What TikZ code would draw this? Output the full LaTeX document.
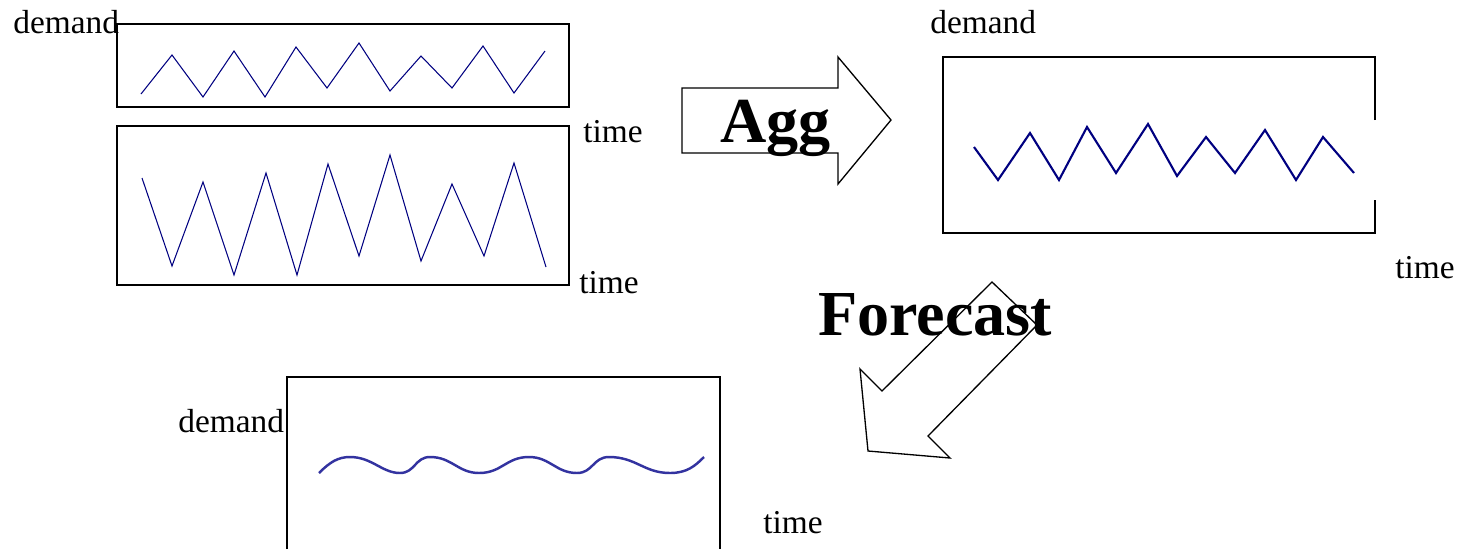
\documentclass[tikz,border=0pt]{standalone}
\usepackage{fontspec}
\setmainfont{Liberation Serif}
\definecolor{plotnavy}{RGB}{0,0,128}
\definecolor{wavyblue}{RGB}{51,51,160}
\usetikzlibrary{positioning}

\begin{document}
\begin{tikzpicture}[x=0.02cm, y=-0.02cm,
    frame/.style={draw=black, line width=0.85pt},
    zig/.style={plotnavy, line width=0.6pt},
    bigzig/.style={plotnavy, line width=1.2pt},
    wave/.style={wavyblue, line width=1.4pt},
    lbl/.style={inner sep=0pt, anchor=base west, font=\fontsize{19}{21}\selectfont},
    bigword/.style={inner sep=0pt, anchor=base west, font=\fontsize{36.5}{39}\selectfont\bfseries},
    blockarr/.style={draw=black, line width=0.75pt, line join=miter}
  ]
  \useasboundingbox (0,0) rectangle (1467,549);

  \draw[frame] (117,24) rectangle (569,107);
  \draw[zig] (141,94) -- (172,55) -- (203,97) -- (234,51) -- (265,97) -- (296,47)
    -- (327,88) -- (359,43) -- (390,91) -- (421,56) -- (452,88) -- (483,46)
    -- (514,93) -- (545,51);
  \draw[frame] (117,126) rectangle (569,285);
  \draw[zig] (142,178) -- (172,266) -- (203,182) -- (234,275) -- (266,173) -- (297,275)
    -- (328,164) -- (359,256) -- (390,155) -- (421,261) -- (452,184) -- (484,256)
    -- (514,163) -- (546,267);
  \node[lbl] (dmdA) at (13,33) {demand};
  \node[lbl] (timeA) at (583,142) {time};
  \node[lbl] (timeB) at (579,293) {time};

  \draw[blockarr] (682,88) -- (838,88) -- (838,57) -- (891,120) -- (838,184)
    -- (838,153) -- (682,153) -- cycle;
  \node[bigword] (agg) at (720,142) {Agg};

  \draw[frame] (1375,120) -- (1375,57) -- (943,57) -- (943,233) -- (1375,233) -- (1375,200);
  \draw[bigzig] (974,147) -- (998,180) -- (1030,133) -- (1059,180) -- (1087,127)
    -- (1116,173) -- (1148,124) -- (1177,176) -- (1206,137) -- (1235,173)
    -- (1265,130) -- (1296,180) -- (1323,137) -- (1354,173);
  \node[lbl] (dmdC) at (930,33) {demand};
  \node[lbl] (timeC) at (1395,278) {time};

  \draw[blockarr] (992,282) -- (1037,325) -- (928,436) -- (950,458) -- (868,451)
    -- (860,369) -- (882,391) -- cycle;
  \node[bigword] (fcst) at (818,335) {Forecast};

  \draw[frame] (287,549) -- (287,377) -- (720,377) -- (720,549);
  \draw[wave] (319,473) .. controls (330,462) and (338,457) .. (350,457)
    .. controls (372,457) and (382,473) .. (400,473)
    .. controls (415,473) and (415,457) .. (430,457)
    .. controls (452,457) and (458,473) .. (479,473)
    .. controls (502,473) and (506,457) .. (529,457)
    .. controls (550,457) and (556,473) .. (577,473)
    .. controls (593,473) and (593,457) .. (609,457)
    .. controls (636,457) and (644,473) .. (670,473)
    .. controls (687,473) and (695,466) .. (704,457);
  \node[lbl] (dmdD) at (178,432) {demand};
  \node[lbl] (timeD) at (763,533) {time};
\end{tikzpicture}
\end{document}
